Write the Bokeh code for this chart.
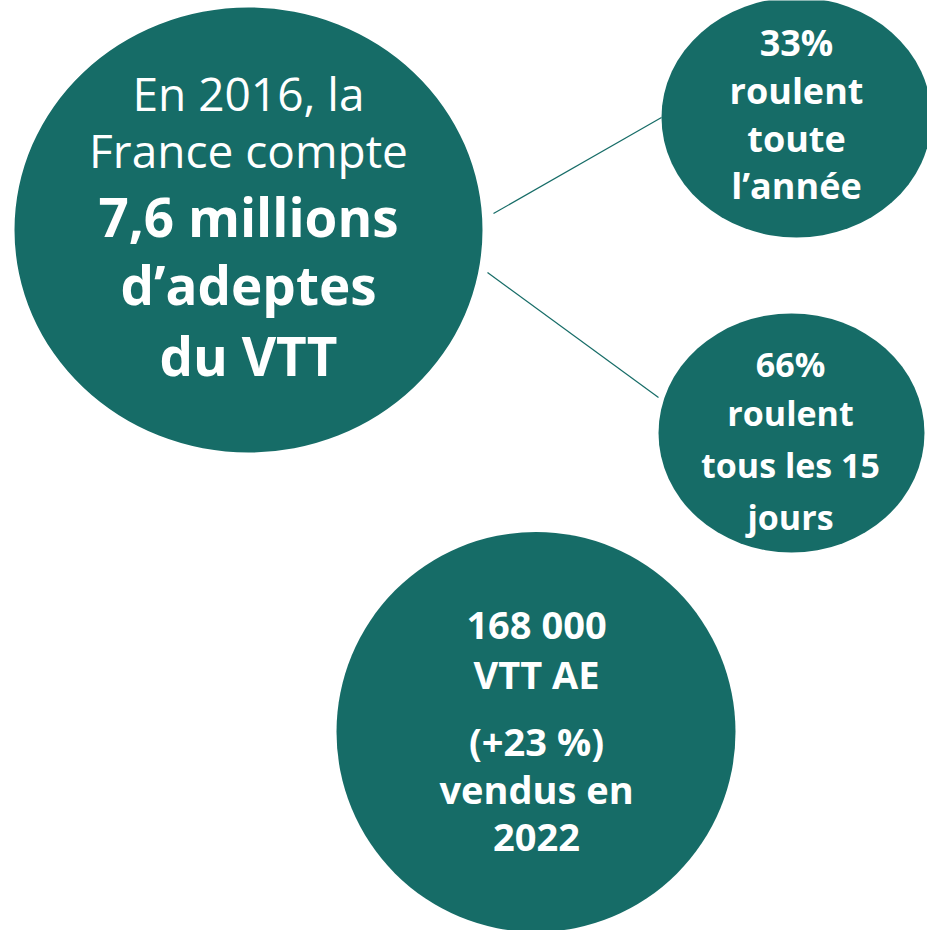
from bokeh.plotting import figure
from bokeh.models import ColumnDataSource, Range1d
from bokeh.core.properties import value
from bokeh.embed import file_html
from bokeh.resources import INLINE

# ---- data (values shown in the infographic) ----
year_survey = 2016
adeptes_millions = "7,6"
share_all_year = 33
share_fortnight = 66
vtt_ae_sold = "168 000"
vtt_ae_growth = 23
year_sales = 2022

big_lines_regular = [f"En {year_survey}, la", "France compte"]
big_lines_bold = [f"{adeptes_millions} millions", "d’adeptes", "du VTT"]
top_lines = [f"{share_all_year}%", "roulent", "toute", "l’année"]
mid_lines = [f"{share_fortnight}%", "roulent", "tous les 15", "jours"]
bottom_lines = [vtt_ae_sold, "VTT AE", f"(+{vtt_ae_growth} %)", "vendus en", str(year_sales)]

# ---- layout (pixel-like coordinates, y downward) ----
TEAL = "#166c67"
FONT = "Open Sans"
DY = -15  # renderer baseline correction

bubble_x = [248, 796, 791, 535.5]
bubble_y = [229.5, 117, 432.5, 731.5]
bubble_w = [468, 270, 266, 399]
bubble_h = [445, 240, 239, 400]

link_x0 = [493, 487]
link_y0 = [213, 272]
link_x1 = [661, 658]
link_y1 = [117, 397]

big_reg_y = [107, 164]
big_bold_y = [231, 299, 370]
top_y = [57, 105, 153, 200]
mid_y = [378, 427, 479, 531]
bottom_y = [638, 688, 755, 803, 852]

W, H = 927, 930
p = figure(width=W, height=H, output_backend="svg", toolbar_location=None,
           x_range=Range1d(0, W), y_range=Range1d(H, 0),
           min_border=0, outline_line_color=None, background_fill_color="white",
           border_fill_color="white")
p.axis.visible = False
p.grid.visible = False

p.segment(x0=link_x0, y0=link_y0, x1=link_x1, y1=link_y1, line_color=TEAL, line_width=1.2)
p.ellipse(x=bubble_x, y=bubble_y, width=bubble_w, height=bubble_h,
          fill_color=TEAL, line_color=None)

def add_text(lines, cx, ys, size, bold):
    src = ColumnDataSource(dict(x=[cx] * len(lines), y=[v + DY for v in ys], t=lines))
    p.text(x="x", y="y", text="t", source=src, text_color="white",
           text_font=value(FONT), text_font_size=f"{size}px",
           text_font_style="bold" if bold else "normal",
           text_align="center", text_baseline="alphabetic")

add_text(big_lines_regular, 248, big_reg_y, 46, False)
add_text(big_lines_bold, 248, big_bold_y, 53, True)
add_text(top_lines, 796, top_y, 36, True)
add_text(mid_lines, 790, mid_y, 34, True)
add_text(bottom_lines, 536, bottom_y, 38, True)

open("out.html", "w").write(file_html(p, INLINE))
